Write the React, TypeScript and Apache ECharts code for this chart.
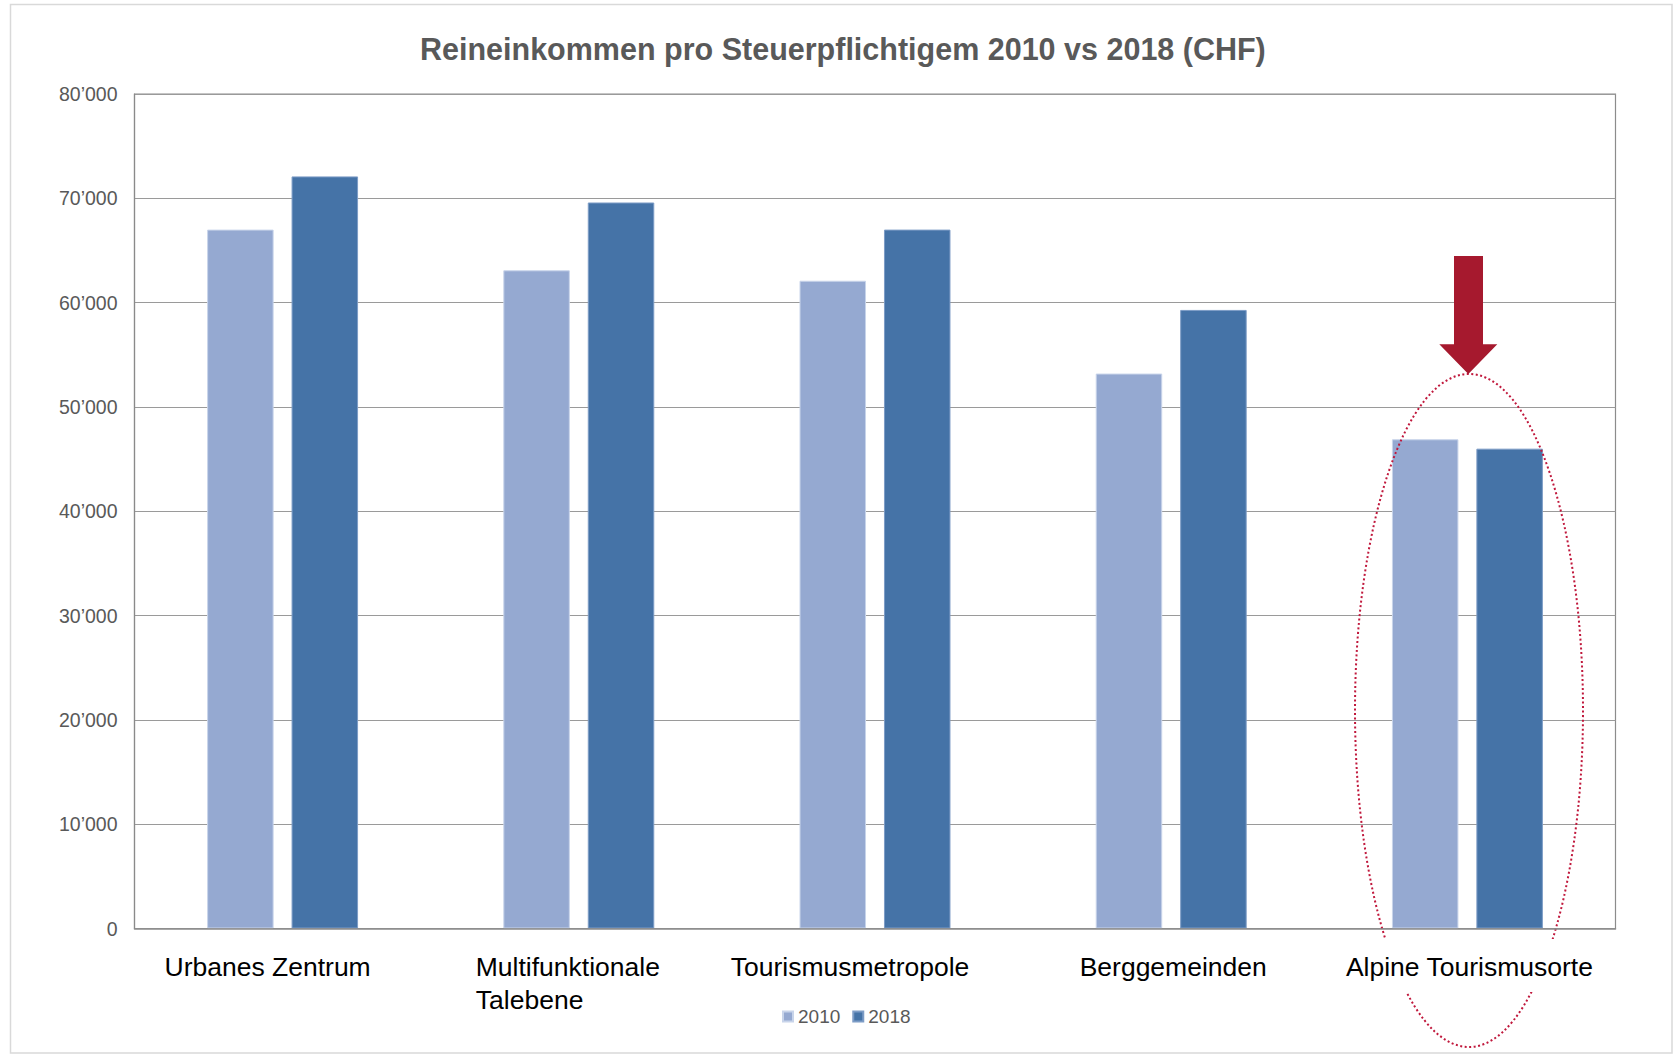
import React, { useEffect, useRef } from "react";
import * as echarts from "echarts";

const categories = [
  "Urbanes Zentrum",
  "Multifunktionale\nTalebene",
  "Tourismusmetropole",
  "Berggemeinden",
  "Alpine Tourismusorte",
];
const seriesNames = ["2010", "2018"];
const values2010 = [67000, 63100, 62100, 53200, 46900];
const values2018 = [72100, 69600, 67000, 59300, 46000];
const yMin = 0;
const yMax = 80000;
const yStep = 10000;
const titleText = "Reineinkommen pro Steuerpflichtigem 2010 vs 2018 (CHF)";

const FONT = "'Liberation Sans', Arial, Helvetica, sans-serif";
const labelShift = [-15, 0, -25, 2, 2];

export default function App() {
  const ref = useRef<HTMLDivElement>(null);

  useEffect(() => {
    if (!ref.current) return;
    const chart = echarts.init(ref.current, undefined, { renderer: "svg" });

    const rich: Record<string, any> = {
      m: {
        width: 206,
        align: "left",
        fontSize: 26.5,
        lineHeight: 33,
        color: "#000",
        fontFamily: FONT,
      },
    };
    labelShift.forEach((s, i) => {
      rich["c" + i] = {
        fontSize: 26.5,
        lineHeight: 33,
        color: "#000",
        fontFamily: FONT,
        padding: [0, s < 0 ? -2 * s : 0, 0, s > 0 ? 2 * s : 0],
      };
    });

    chart.setOption({
      animation: false,
      backgroundColor: "#fff",
      title: {
        text: titleText,
        left: 420,
        top: 32,
        padding: 0,
        textStyle: {
          fontFamily: FONT,
          fontSize: 30.5,
          fontWeight: "bold",
          color: "#595959",
          lineHeight: 34,
        },
      },
      legend: {
        data: seriesNames,
        left: 782,
        top: 1007,
        padding: 0,
        icon: "rect",
        itemWidth: 10,
        itemHeight: 10,
        itemGap: 12,
        textStyle: { fontFamily: FONT, fontSize: 19, color: "#595959" },
      },
      grid: {
        left: 134.5,
        right: 57.5,
        top: 94,
        bottom: 126.5,
        containLabel: false,
        outerBoundsMode: "none",
        show: true,
        borderColor: "#8c8c8c",
        borderWidth: 1.2,
      },
      xAxis: {
        type: "category",
        data: categories,
        z: 10,
        axisTick: { show: false },
        axisLine: { lineStyle: { color: "#8a8a8a", width: 1.5 } },
        axisLabel: {
          margin: 22,
          interval: 0,
          fontFamily: FONT,
          fontSize: 26.5,
          color: "#000",
          lineHeight: 33,
          formatter: (value: string, index: number) => {
            if (value.indexOf("\n") >= 0) {
              return value
                .split("\n")
                .map((s) => `{m|${s}}`)
                .join("\n");
            }
            return `{c${index}|${value}}`;
          },
          rich,
        },
      },
      yAxis: {
        type: "value",
        min: yMin,
        max: yMax,
        interval: yStep,
        axisLine: { show: true, lineStyle: { color: "#8a8a8a", width: 1.2 } },
        axisTick: { show: false },
        splitLine: { lineStyle: { color: "#9a9a9a", width: 1.2 } },
        axisLabel: {
          margin: 17,
          fontFamily: FONT,
          fontSize: 19.5,
          color: "#595959",
          formatter: (v: number) => (v === 0 ? "0" : `${v / 1000}\u2019000`),
        },
      },
      series: [
        {
          name: seriesNames[0],
          type: "bar",
          data: values2010,
          barWidth: 66.5,
          barGap: "27%",
          itemStyle: { color: "#95A9D1", borderColor: "#c8d4ea", borderWidth: 1 },
        },
        {
          name: seriesNames[1],
          type: "bar",
          data: values2018,
          barWidth: 66.5,
          barGap: "27%",
          itemStyle: { color: "#4573A7", borderColor: "#7d9cc6", borderWidth: 1 },
        },
      ],
      graphic: [
        {
          type: "rect",
          z: 0,
          shape: { x: 10.5, y: 4.5, width: 1661.5, height: 1048.5 },
          style: { fill: "none", stroke: "#d9d9d9", lineWidth: 1.5 },
        },
        {
          type: "ellipse",
          z: 5,
          shape: { cx: 1469, cy: 710.5, rx: 114, ry: 336.5 },
          style: {
            fill: "none",
            stroke: "#C0183C",
            lineWidth: 2,
            lineDash: [2, 2.5],
          },
        },
        {
          type: "rect",
          z: 6,
          shape: { x: 1370, y: 939, width: 200, height: 53 },
          style: { fill: "#fff" },
        },
        {
          type: "polygon",
          z: 7,
          shape: {
            points: [
              [1454, 256],
              [1483, 256],
              [1483, 344.3],
              [1497.3, 344.3],
              [1468.3, 374],
              [1439.3, 344.3],
              [1454, 344.3],
            ],
          },
          style: { fill: "#A6192E" },
        },
      ],
    });

    return () => chart.dispose();
  }, []);

  return (
    <div
      ref={ref}
      style={{
        position: "fixed",
        left: 0,
        top: 0,
        width: 1673,
        height: 1055,
        background: "#fff",
      }}
    />
  );
}
